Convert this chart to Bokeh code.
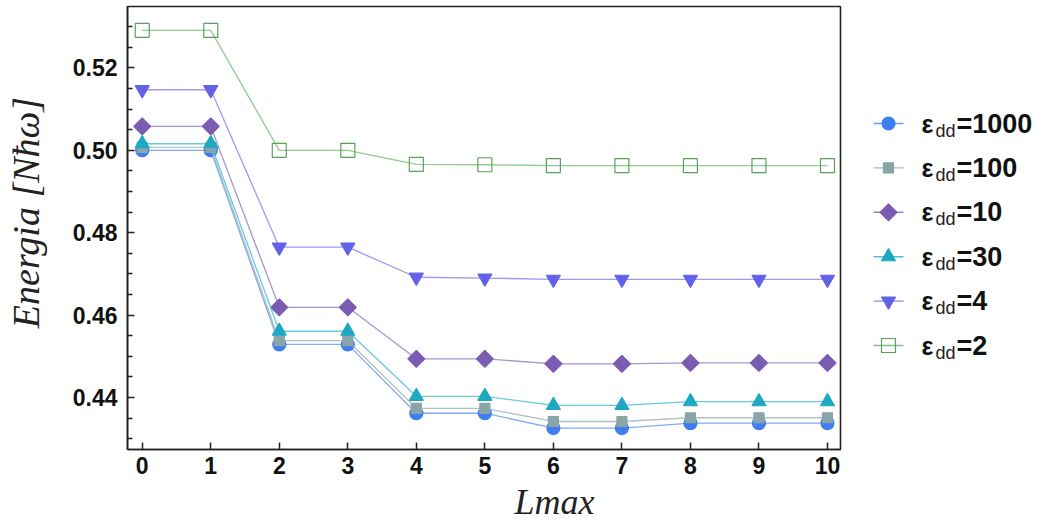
import math
from bokeh.plotting import figure
from bokeh.layouts import row
from bokeh.models import Range1d, FixedTicker, PrintfTickFormatter, Title
from bokeh.core.properties import value
from bokeh.embed import file_html
from bokeh.resources import INLINE

# ---------------- data ----------------
lmax = [0, 1, 2, 3, 4, 5, 6, 7, 8, 9, 10]
eps_labels = ["1000", "100", "10", "30", "4", "2"]
e1000 = [0.5000, 0.5000, 0.4529, 0.4529, 0.4362, 0.4362, 0.4326, 0.4326, 0.4338, 0.4338, 0.4338]
e100 = [0.5007, 0.5007, 0.4538, 0.4538, 0.4374, 0.4374, 0.4342, 0.4342, 0.4351, 0.4351, 0.4351]
e10 = [0.5058, 0.5058, 0.4619, 0.4619, 0.4494, 0.4494, 0.4482, 0.4482, 0.4484, 0.4484, 0.4484]
e30 = [0.5016, 0.5016, 0.4561, 0.4561, 0.4403, 0.4403, 0.4381, 0.4381, 0.4390, 0.4390, 0.4390]
e4 = [0.5147, 0.5147, 0.4765, 0.4765, 0.4692, 0.4690, 0.4687, 0.4687, 0.4687, 0.4687, 0.4687]
e2 = [0.5291, 0.5291, 0.5000, 0.5000, 0.4966, 0.4965, 0.4963, 0.4963, 0.4963, 0.4963, 0.4963]
y_ticks = [0.44, 0.46, 0.48, 0.50, 0.52]
y_minor = [0.430, 0.435, 0.445, 0.450, 0.455, 0.465, 0.470, 0.475, 0.485, 0.490, 0.495, 0.505, 0.510, 0.515, 0.525, 0.530]
x_ticks = [0, 1, 2, 3, 4, 5, 6, 7, 8, 9, 10]

series = [e1000, e100, e10, e30, e4, e2]

styles = [
    dict(marker="circle", size=13, angle=0, fill="#3f7ef0", edge="#3f7ef0", line="#6a9cf2", fa=1.0),
    dict(marker="square", size=10, angle=0, fill="#8aa5a8", edge="#8aa5a8", line="#a5b9bb", fa=1.0),
    dict(marker="square", size=12, angle=math.pi / 4, fill="#7a5cb3", edge="#7a5cb3", line="#9a82c6", fa=1.0),
    dict(marker="triangle", size=14, angle=0, fill="#1fa8c2", edge="#1fa8c2", line="#4cc2d6", fa=1.0),
    dict(marker="inverted_triangle", size=14, angle=0, fill="#6262e8", edge="#6262e8", line="#8a8af0", fa=1.0),
    dict(marker="square", size=14, angle=0, fill="#ffffff", edge="#5e9e5e", line="#7cc47c", fa=0.0),
]

H = 526
FRAME_TOP = 6
FRAME_BOTTOM = 449
YLAB_W = 50


def blank_panel(width):
    f = figure(width=width, height=H, x_range=Range1d(0, width), y_range=Range1d(FRAME_BOTTOM, FRAME_TOP),
               output_backend="svg", toolbar_location=None, x_axis_type=None, y_axis_type=None,
               min_border_left=0, min_border_right=0, min_border_top=FRAME_TOP,
               min_border_bottom=H - FRAME_BOTTOM)
    f.outline_line_color = None
    f.xgrid.visible = False
    f.ygrid.visible = False
    f.background_fill_color = "white"
    f.border_fill_color = "white"
    return f


# ---------------- y label panel ----------------
yl = blank_panel(YLAB_W)
yl.text([25], [212], text=["Energia [Nħω]"], angle=math.pi / 2, text_font=value("Liberation Serif"),
        text_font_style="italic", text_font_size="38px", text_align="center", text_baseline="middle",
        text_color="#222222")

# ---------------- main plot ----------------
p = figure(width=845 - YLAB_W, height=H, x_range=Range1d(-0.215, 10.19), y_range=Range1d(0.4274, 0.5349),
           output_backend="svg", toolbar_location=None,
           min_border_left=127 - YLAB_W, min_border_right=5, min_border_top=FRAME_TOP,
           min_border_bottom=H - FRAME_BOTTOM)
p.background_fill_color = "white"
p.border_fill_color = "white"
p.xgrid.visible = False
p.ygrid.visible = False
p.outline_line_color = "#222222"
p.outline_line_width = 1.6
p.outline_line_alpha = 1.0

for ys, st in zip(series, styles):
    p.line(lmax, ys, line_color=st["line"], line_width=1.3, line_alpha=0.85)
    p.scatter(lmax, ys, marker=st["marker"], size=st["size"], angle=st["angle"],
              fill_color=st["fill"], fill_alpha=st["fa"], line_color=st["edge"], line_width=1.2)

for ax in (p.xaxis[0], p.yaxis[0]):
    ax.axis_line_color = "#222222"
    ax.axis_line_width = 1.6
    ax.major_tick_line_color = "#222222"
    ax.minor_tick_line_color = "#222222"
    ax.major_tick_line_width = 1.5
    ax.minor_tick_line_width = 1.3
    ax.major_tick_in = 7
    ax.major_tick_out = 0
    ax.minor_tick_in = 5
    ax.minor_tick_out = 0
    ax.major_label_text_font = "Liberation Sans"
    ax.major_label_text_font_style = "bold"
    ax.major_label_text_font_size = "23px"
    ax.major_label_text_color = "#111111"

p.xaxis.ticker = FixedTicker(ticks=x_ticks, minor_ticks=[])
p.yaxis.ticker = FixedTicker(ticks=y_ticks, minor_ticks=y_minor)
p.yaxis.formatter = PrintfTickFormatter(format="%.2f")
p.xaxis.major_label_standoff = 7
p.yaxis.major_label_standoff = 10

# x axis title
p.add_layout(Title(text="Lmax", align="left", offset=387, standoff=7,
                   text_font="Liberation Serif", text_font_style="italic",
                   text_font_size="36px", text_color="#222222"), "below")

# ---------------- legend panel ----------------
lg = blank_panel(199)
row_y = [123 + 44.4 * i for i in range(6)]
for yy, st, lab in zip(row_y, styles, eps_labels):
    lg.line([28, 58], [yy, yy], line_color=st["line"], line_width=1.4)
    lg.scatter([43], [yy], marker=st["marker"], size=st["size"], angle=st["angle"],
               fill_color=st["fill"], fill_alpha=st["fa"], line_color=st["edge"], line_width=1.2)
    lg.text([76], [yy], text=["ε"], text_font=value("Liberation Sans"), text_font_style="bold",
            text_font_size="25px", text_baseline="middle", text_color="#111111")
    lg.text([90], [yy + 7], text=["dd"], text_font=value("Liberation Sans"), text_font_style="normal",
            text_font_size="18px", text_baseline="middle", text_color="#222222")
    lg.text([111], [yy], text=["=" + lab], text_font=value("Liberation Sans"), text_font_style="bold",
            text_font_size="27px", text_baseline="middle", text_color="#111111")

layout = row(yl, p, lg, spacing=0)
open("out.html", "w").write(file_html(layout, INLINE))
